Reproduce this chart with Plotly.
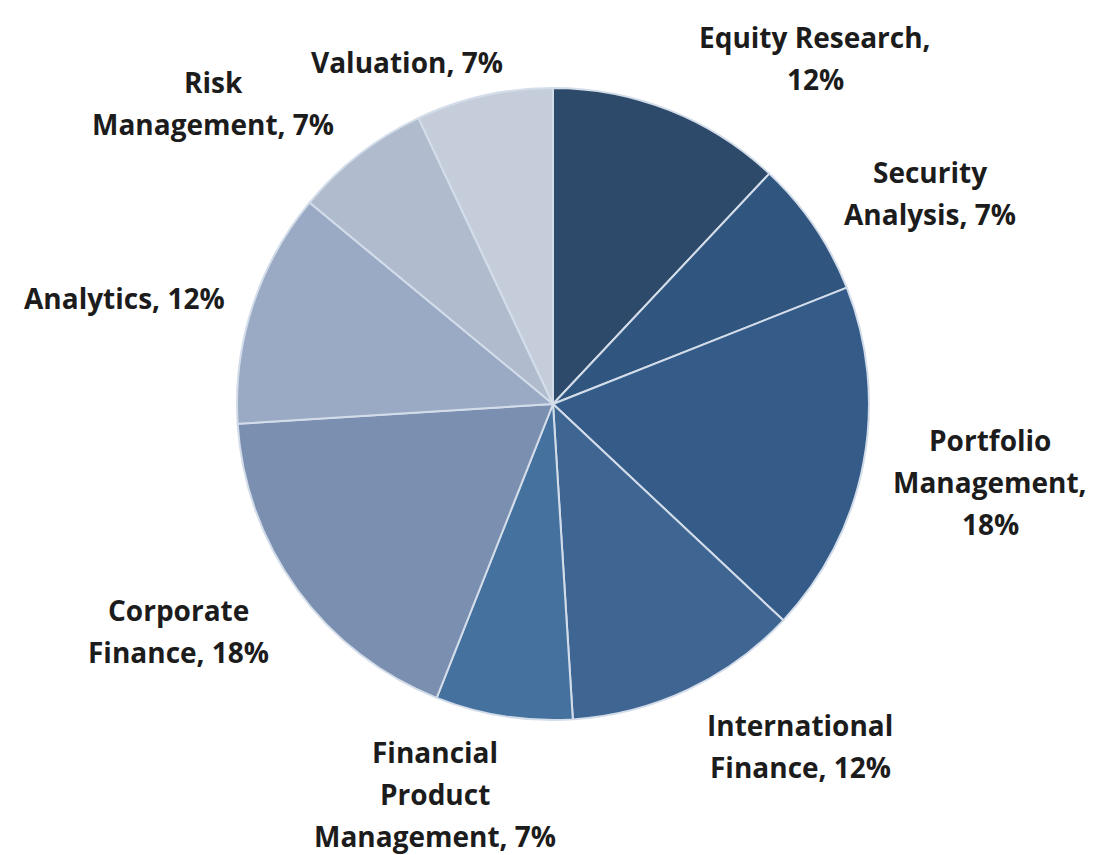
import plotly.graph_objects as go

categories = ["Equity Research", "Security Analysis", "Portfolio Management",
              "International Finance", "Financial Product Management",
              "Corporate Finance", "Analytics", "Risk Management", "Valuation"]
values = [12, 7, 18, 12, 7, 18, 12, 7, 7]
colors = ["#2E4A6B", "#30557F", "#355C89", "#3F6593", "#45719F",
          "#7B8FB0", "#9AAAC4", "#B0BBCE", "#C6CDDA"]

# label line breaks and text positions (page-pixel centres of first line)
label_lines = [
    ["Equity Research,", "12%"],
    ["Security", "Analysis, 7%"],
    ["Portfolio", "Management,", "18%"],
    ["International", "Finance, 12%"],
    ["Financial", "Product", "Management, 7%"],
    ["Corporate", "Finance, 18%"],
    ["Analytics, 12%"],
    ["Risk", "Management, 7%"],
    ["Valuation, 7%"],
]
label_pos = [(815, 37), (930, 172), (990, 440), (800, 725), (435, 752),
             (178, 610), (124, 298), (213, 82), (407, 62)]

W, H = 1097, 855
OFF = 8  # browser body margin
cx, cy, r = 553 - OFF, 404 - OFF, 316
LINE = 42

fig = go.Figure(go.Pie(
    labels=categories, values=values, sort=False, direction="clockwise",
    rotation=0, textinfo="none", hoverinfo="label+percent",
    marker=dict(colors=colors, line=dict(color="#D3DDEA", width=2)),
    domain=dict(x=[(cx - r) / W, (cx + r) / W],
                y=[(H - cy - r) / H, (H - cy + r) / H]),
    showlegend=False,
))

anns = []
for lines, (px, py) in zip(label_lines, label_pos):
    for i, t in enumerate(lines):
        anns.append(dict(
            x=(px - OFF) / W, y=1 - (py - OFF + i * LINE) / H,
            xref="paper", yref="paper",
            text="<b>" + t + "</b>", showarrow=False, xanchor="center", yanchor="middle",
            font=dict(family="Open Sans", size=28, color="#1c1c1c"),
        ))

fig.update_layout(
    width=W, height=H, margin=dict(l=0, r=0, t=0, b=0),
    paper_bgcolor="white", plot_bgcolor="white",
    annotations=anns,
)
fig.write_html("out.html")
